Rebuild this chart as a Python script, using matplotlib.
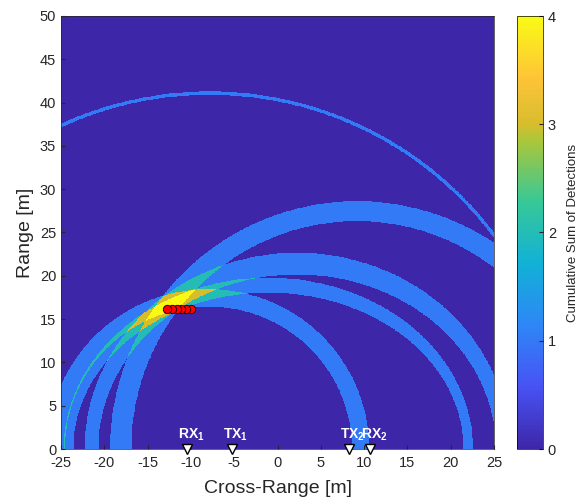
import numpy as np
import matplotlib.pyplot as plt
from matplotlib.colors import LinearSegmentedColormap

plt.rcParams['font.family'] = ['Liberation Sans', 'DejaVu Sans']
plt.rcParams['mathtext.fontset'] = 'custom'
plt.rcParams['mathtext.bf'] = 'Liberation Sans:bold'
plt.rcParams['mathtext.rm'] = 'Liberation Sans'
plt.rcParams['axes.unicode_minus'] = False

# sensor positions along the baseline [m]
sensor_names = [r'$\mathbf{RX_1}$', r'$\mathbf{TX_1}$', r'$\mathbf{TX_2}$', r'$\mathbf{RX_2}$']
sensor_x = [-10.4, -5.3, 8.2, 10.7]

# detection bands (elliptical rings centred on the baseline) [m]
band_xc = [9.2, 2.27, -1.05, -7.98, -7.85]
band_a_in = [26.1, 22.97, 22.55, 16.58, 40.9]
band_b_in = [26.25, 20.1, 18.0, 16.4, 40.82]
band_a_out = [28.55, 24.57, 23.65, 18.58, 41.3]
band_b_out = [28.55, 22.6, 19.73, 18.4, 41.22]

# estimated target positions
track_x = [-10.0, -10.55, -11.1, -11.65, -12.2, -12.8]
track_y = [16.2, 16.2, 16.2, 16.2, 16.2, 16.2]

# parula-like colormap
parula = LinearSegmentedColormap.from_list('parula', [
    (0.0, (0.2422, 0.1504, 0.6603)),
    (1/7, (0.2810, 0.3228, 0.9579)),
    (2/7, (0.1786, 0.5289, 0.9682)),
    (3/7, (0.0689, 0.6948, 0.8394)),
    (4/7, (0.2161, 0.7843, 0.5923)),
    (5/7, (0.6720, 0.7793, 0.2227)),
    (0.75, (0.8400, 0.7400, 0.1800)),
    (6/7, (0.9970, 0.7659, 0.2199)),
    (1.0, (0.9769, 0.9839, 0.0805)),
])

xg = np.linspace(-25, 25, 1001)
yg = np.linspace(0, 50, 1001)
X, Y = np.meshgrid(xg, yg)
counts = np.zeros_like(X)
for xc, ai, bi, ao, bo in zip(band_xc, band_a_in, band_b_in, band_a_out, band_b_out):
    r_in = ((X - xc) / ai) ** 2 + (Y / bi) ** 2
    r_out = ((X - xc) / ao) ** 2 + (Y / bo) ** 2
    counts += (r_in >= 1) & (r_out <= 1)

fig = plt.figure(figsize=(5.85, 4.98), dpi=100)
ax = fig.add_axes([61/585, 49/498, 433/585, 433/498])
im = ax.imshow(counts, origin='lower', extent=[-25, 25, 0, 50], cmap=parula,
               vmin=0, vmax=4, interpolation='nearest', aspect='auto')

ax.plot(track_x, track_y, 'o', ms=6, mfc='red', mec=(0.2, 0, 0), mew=0.7, zorder=5)

for name, sx in zip(sensor_names, sensor_x):
    ax.plot(sx, 0, 'v', ms=7, mfc='white', mec='black', mew=1, clip_on=False, zorder=6)
    ax.text(sx + 0.5, 0.7, name, color='white', fontsize=10, ha='center', va='bottom', zorder=6)

ax.set_xlim(-25, 25)
ax.set_ylim(0, 50)
ax.set_xticks(np.arange(-25, 26, 5))
ax.set_yticks(np.arange(0, 51, 5))
ax.tick_params(direction='in', length=3, labelsize=10.5, colors=(0.15, 0.15, 0.15))
ax.tick_params(axis='x', pad=5)
for sp in ax.spines.values():
    sp.set_color((0.15, 0.15, 0.15))
    sp.set_linewidth(0.5)
ax.set_xlabel('Cross-Range [m]', fontsize=14, color=(0.15, 0.15, 0.15), labelpad=7)
ax.set_ylabel('Range [m]', fontsize=14, color=(0.15, 0.15, 0.15))

cax = fig.add_axes([517/585, 49/498, 26/585, 433/498])
cb = fig.colorbar(im, cax=cax, ticks=[0, 1, 2, 3, 4])
cb.outline.set_linewidth(0.5)
cb.ax.tick_params(direction='in', length=3, labelsize=10.5, colors=(0.15, 0.15, 0.15))
cb.set_label('Cumulative Sum of Detections', fontsize=9.5, color=(0.15, 0.15, 0.15), labelpad=8)

fig.savefig('out.png', dpi=100)
